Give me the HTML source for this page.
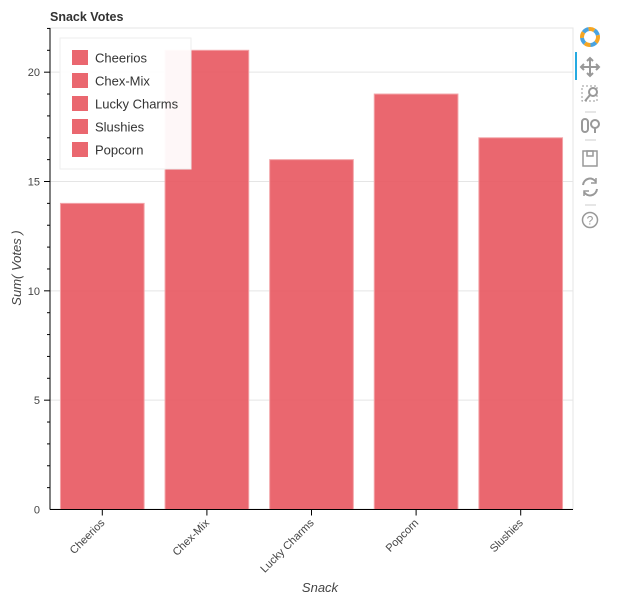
<!DOCTYPE html>
<html><head><meta charset="utf-8"><style>
body{margin:0;background:#fff;}
svg{font-family:"Liberation Sans",sans-serif;}
</style></head><body>
<svg id="chart" width="623" height="598">
<text x="50" y="21" font-size="12.5" font-weight="bold" fill="#333">Snack Votes</text>
<rect x="50" y="28" width="523" height="481" fill="none" stroke="#e5e5e5"/>
<g id="grid"></g><g id="bars"></g><g id="axes"></g>
<g>
<rect x="60" y="38" width="131" height="131" fill="#fff" fill-opacity="0.95" stroke="#eee"/>
<g id="legend"></g>
</g>
<text x="0" y="0" transform="translate(21,268) rotate(-90)" text-anchor="middle" font-size="13" font-style="italic" fill="#444">Sum( Votes )</text>
<text x="320" y="592" text-anchor="middle" font-size="13" font-style="italic" fill="#444">Snack</text>
<g>
<g transform="translate(590,37)">
<circle r="8" fill="none" stroke="#f5a623" stroke-width="4" stroke-dasharray="6 6"/>
<circle r="8" fill="none" stroke="#4aa3df" stroke-width="4" stroke-dasharray="6 6" stroke-dashoffset="6"/>
<circle r="4" fill="#fff"/>
</g>
<rect x="575" y="52" width="2" height="28" fill="#26aae1"/>
<g stroke="#999" stroke-width="2" fill="none"><path d="M590 58v18M581 67h18"/><path d="M587 61l3-3 3 3M587 73l3 3 3-3M584 64l-3 3 3 3M596 64l3 3-3 3"/></g>
<g stroke="#999" fill="none"><rect x="582" y="86" width="15" height="15" stroke-dasharray="2 2"/><circle cx="593" cy="92" r="4" stroke-width="2"/><path d="M590 95l-5 6" stroke-width="2"/></g>
<line x1="585" y1="112" x2="596" y2="112" stroke="#ccc"/>
<g stroke="#999" stroke-width="2" fill="none"><rect x="582" y="119" width="6" height="13" rx="3"/><circle cx="595" cy="124" r="4"/><path d="M595 128v5"/></g>
<line x1="585" y1="140" x2="596" y2="140" stroke="#ccc"/>
<g stroke="#999" stroke-width="1.5" fill="none"><rect x="583" y="151" width="14" height="15"/><rect x="587" y="151" width="6" height="5"/></g>
<g stroke="#999" stroke-width="2" fill="none"><path d="M583 185a7 7 0 0 1 13-3M597 189a7 7 0 0 1-13 3"/><path d="M596 178v5h-5M584 196v-5h5" stroke-width="1.5"/></g>
<line x1="585" y1="205" x2="596" y2="205" stroke="#ccc"/>
<g><circle cx="590" cy="220" r="7.5" fill="none" stroke="#999" stroke-width="1.5"/><text x="590" y="224.5" text-anchor="middle" font-size="12" fill="#999">?</text></g>
</g>
</svg>
<script>
const categories=["Cheerios","Chex-Mix","Lucky Charms","Popcorn","Slushies"];
const votes=[14,21,16,19,17];
const yTicks=[0,5,10,15,20];
const legendLabels=["Cheerios","Chex-Mix","Lucky Charms","Slushies","Popcorn"];
const NS="http://www.w3.org/2000/svg";
const X0=50,X1=573,Y0=509.5,YTOP=28,YMAX=22.02;
const band=(X1-X0)/categories.length;
const xc=i=>X0+band*(i+0.5);
const y=v=>Y0-(v/YMAX)*(Y0-YTOP);
function mk(tag,attrs,parent,text){const e=document.createElementNS(NS,tag);for(const k in attrs)e.setAttribute(k,attrs[k]);if(text!=null)e.textContent=text;parent.appendChild(e);return e;}
const grid=document.getElementById('grid'),bars=document.getElementById('bars'),axes=document.getElementById('axes'),legend=document.getElementById('legend');
yTicks.forEach(t=>{if(t===0)return;const l=mk('line',{x1:X0,x2:X1,y1:y(t),y2:y(t),stroke:'#e5e5e5'},grid);

});
categories.forEach((c,i)=>{const w=band*0.8;const r=mk('rect',{x:xc(i)-w/2,y:y(votes[i]),width:w,height:Y0-y(votes[i]),fill:'#e8575f','fill-opacity':0.9,stroke:'#f3a5a9'},bars);

});
mk('line',{x1:X0,x2:X0,y1:YTOP,y2:Y0,stroke:'#000'},axes);
mk('line',{x1:X0,x2:X1,y1:Y0,y2:Y0,stroke:'#000'},axes);
for(let v=1;v<=YMAX;v++){mk('line',{x1:X0-(v%5===0?6:3),x2:X0,y1:y(v),y2:y(v),stroke:'#000'},axes);}
yTicks.forEach(t=>{const tx=mk('text',{x:X0-10,y:y(t)+4,'text-anchor':'end','font-size':11,fill:'#444'},axes,String(t));

});
categories.forEach((c,i)=>{mk('line',{x1:xc(i),x2:xc(i),y1:Y0,y2:Y0+6,stroke:'#000'},axes);
const tx=mk('text',{x:0,y:0,transform:`translate(${xc(i)+3},${Y0+14}) rotate(-45)`,'text-anchor':'end','font-size':11,fill:'#444'},axes,c);

});
legendLabels.forEach((l,i)=>{const yy=50+i*23;
const g=mk('g',{},legend);


mk('rect',{x:72,y:yy,width:16,height:15,fill:'#e8575f','fill-opacity':0.9},g);
mk('text',{x:95,y:yy+12.5,'font-size':13,fill:'#333'},g,l);});
</script>
</body></html>
